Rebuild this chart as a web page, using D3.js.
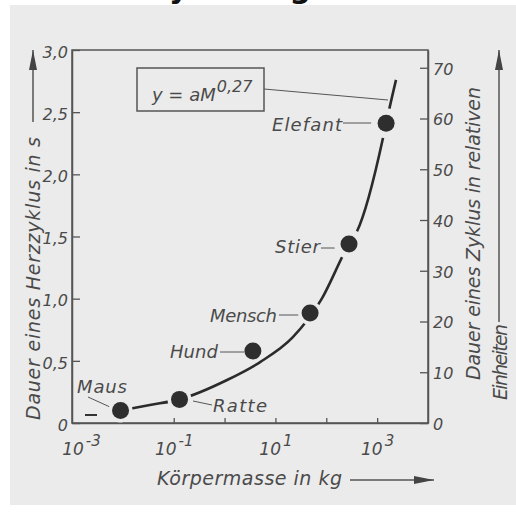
<!DOCTYPE html>
<html>
<head>
<meta charset="utf-8">
<script src="https://cdn.jsdelivr.net/npm/d3@7"></script>
<style>
  body { margin: 0; background: #fff; }
  svg { display: block; }
  text { font-family: "DejaVu Sans", sans-serif; font-style: italic; fill: #4a4a4a; }
</style>
</head>
<body>
<div class="vis"></div>
<script>
// Tiere: Körpermasse (kg) und Dauer eines Herzzyklus (s)
const animals = ["Maus", "Ratte", "Hund", "Mensch", "Stier", "Elefant"];
const massKg = [0.009, 0.13, 3.6, 48, 280, 1500];
const cycleS = [0.10, 0.19, 0.58, 0.885, 1.44, 2.41];

const curveMass = [0.009, 0.034, 0.13, 1.12, 5.0, 22, 79, 280, 400, 1300, 1500, 2350];
const curveSec  = [0.10, 0.145, 0.19, 0.346, 0.49, 0.69, 0.99, 1.44, 1.54, 2.29, 2.41, 2.76];

const leftTicks = [0, 0.5, 1.0, 1.5, 2.0, 2.5, 3.0];
const rightTicks = [0, 10, 20, 30, 40, 50, 60, 70];
const decades = [1e-3, 1e-2, 1e-1, 1e0, 1e1, 1e2, 1e3];
const decadeLabels = {"-3": "-3", "-1": "-1", "1": "1", "3": "3"};

const W = 516, H = 515;
const bg = "#ebebeb";

const svg = d3.select('.vis').append('svg')
    .attr("width", W).attr("height", H);

// Kopfzeile (im Original angeschnitten) und Scanfläche
svg.append("text")
    .attr("x", 94).attr("y", -2)
    .style("font-style", "normal").style("font-weight", "bold")
    .style("font-size", "30px").style("fill", "#111")
    .text("Analyse: Organe");
svg.append("rect")
    .attr("x", 10).attr("y", 5).attr("width", W - 10).attr("height", 500)
    .attr("fill", bg);

const margin = {top: 50, left: 72, right: 88, bottom: 92};
const x = d3.scaleLog().domain([1e-3, 1e4]).range([margin.left, W - margin.right]);
const y = d3.scaleLinear().domain([0, 3]).range([H - margin.bottom, margin.top]);
const yR = d3.scaleLinear().domain([0, 73.5]).range([H - margin.bottom, margin.top]);

const axisColor = "#555";

// Rahmen
svg.append("rect")
    .attr("x", x.range()[0]).attr("y", y(3))
    .attr("width", x.range()[1] - x.range()[0])
    .attr("height", y(0) - y(3))
    .attr("fill", "none").attr("stroke", axisColor).attr("stroke-width", 1.5);

const comma = d => d === 0 ? "0" : d3.format(".1f")(d).replace(".", ",");

const gl = svg.append("g")
    .attr("transform", `translate(${x.range()[0]},0)`)
    .call(d3.axisLeft(y).tickValues(leftTicks).tickSizeInner(-8).tickSizeOuter(0).tickPadding(4).tickFormat(comma));

const gr = svg.append("g")
    .attr("transform", `translate(${x.range()[1]},0)`)
    .call(d3.axisRight(yR).tickValues(rightTicks).tickSizeInner(-8).tickSizeOuter(0).tickPadding(5));

const gb = svg.append("g")
    .attr("transform", `translate(0,${y(0)})`)
    .call(d3.axisBottom(x).tickValues(decades).tickSizeInner(-5).tickSizeOuter(0).tickPadding(14).tickFormat(""));

[gl, gr, gb].forEach(g => {
    g.select(".domain").attr("stroke", axisColor).attr("stroke-width", 1.5);
    g.selectAll(".tick line").attr("stroke", axisColor).attr("stroke-width", 1.3);
    g.selectAll(".tick text").attr("font-family", null).attr("fill", null).style("font-size", "16px");
});
gl.selectAll(".tick text").attr("dy", "0.45em");
gr.selectAll(".tick text").attr("dy", "0.4em");
gb.select(".tick line").attr("stroke", "none");

gb.selectAll(".tick text").each(function (d) {
    const e = String(Math.round(Math.log10(d)));
    if (!(e in decadeLabels)) return;
    const t = d3.select(this).attr("y", 32).attr("dy", null)
        .attr("dx", e === "-3" ? 9 : 0).style("font-size", "17px");
    t.append("tspan").text("10");
    t.append("tspan").attr("dy", -9).attr("dx", 2).style("font-size", "15px").text(decadeLabels[e]);
});

// Achsentitel
const title = (tr, txt, len) => svg.append("text")
    .attr("transform", tr)
    .attr("textLength", len).attr("lengthAdjust", "spacing")
    .style("font-size", "19px")
    .text(txt);
title(`translate(40,420) rotate(-90)`, "Dauer eines Herzzyklus in s", 283);
title(`translate(480,380) rotate(-90)`, "Dauer eines Zyklus in relativen", 293);
title(`translate(507,400) rotate(-90)`, "Einheiten", 76);
title(`translate(157,485)`, "Körpermasse in kg", 185);

// Pfeile
const arrow = (x1, y1, x2, y2) => {
    svg.append("line").attr("x1", x1).attr("y1", y1).attr("x2", x2).attr("y2", y2)
        .attr("stroke", "#555").attr("stroke-width", 1.5);
    const a = Math.atan2(y2 - y1, x2 - x1), L = 20, w = 4;
    const p = [[x2, y2],
        [x2 - L * Math.cos(a) - w * Math.sin(a), y2 - L * Math.sin(a) + w * Math.cos(a)],
        [x2 - L * Math.cos(a) + w * Math.sin(a), y2 - L * Math.sin(a) - w * Math.cos(a)]];
    svg.append("path").attr("d", d3.line()(p) + "Z").attr("fill", "#444");
};
arrow(33, 122, 33, 50);
arrow(499, 322, 499, 50);
arrow(350, 480, 434, 480);

// Kurve
const curvePts = curveMass.map((m, i) => [x(m), y(curveSec[i])]);
svg.append("path")
    .attr("d", d3.line().curve(d3.curveMonotoneX)(curvePts))
    .attr("fill", "none").attr("stroke", "#2b2b2b").attr("stroke-width", 2.6);

// Formelkasten
const box = svg.append("g");
box.append("line")
    .attr("x1", 264).attr("y1", 89).attr("x2", 388).attr("y2", 100)
    .attr("stroke", "#555").attr("stroke-width", 1);
box.append("rect")
    .attr("x", 137).attr("y", 68).attr("width", 127).attr("height", 43)
    .attr("fill", bg).attr("stroke", "#555").attr("stroke-width", 1.5);
const eq = box.append("text").attr("x", 152).attr("y", 101).style("font-size", "18px");
eq.append("tspan").text("y = aM");
eq.append("tspan").attr("dy", -9).attr("dx", 1).style("font-size", "16px").text("0,27");

// Beschriftungen der Punkte
const labelPos = {
    Maus:    {tx: 77,  ty: 393, len: 50, line: [[88, 397], [110, 407]]},
    Ratte:   {tx: 213, ty: 412, len: 54, line: [[193, 401], [212, 405]]},
    Hund:    {tx: 170, ty: 358, len: 48, line: [[220, 352], [244, 352]]},
    Mensch:  {tx: 210, ty: 322, len: 67, line: [[279, 315], [301, 315]]},
    Stier:   {tx: 275, ty: 253, len: 45, line: [[321, 248], [340, 248]]},
    Elefant: {tx: 272, ty: 131, len: 70, line: [[343, 123], [378, 123]]}
};
const lab = svg.append("g");
animals.forEach(a => {
    const p = labelPos[a];
    lab.append("text").attr("x", p.tx).attr("y", p.ty)
        .attr("textLength", p.len).attr("lengthAdjust", "spacing")
        .style("font-size", "18px").text(a);
    lab.append("path").attr("d", d3.line()(p.line))
        .attr("stroke", "#555").attr("stroke-width", 1).attr("fill", "none");
});
// kurzer Strich links der Maus
lab.append("line").attr("x1", 85).attr("x2", 97).attr("y1", 415).attr("y2", 415)
    .attr("stroke", "#333").attr("stroke-width", 2);

// Punkte mit Aussparung in der Kurve
const dots = svg.append("g");
dots.selectAll("circle.halo").data(animals).join("circle")
    .attr("class", "halo")
    .attr("cx", (d, i) => x(massKg[i])).attr("cy", (d, i) => y(cycleS[i]))
    .attr("r", (d, i) => d === "Hund" ? 9 : (d === "Elefant" || d === "Stier" ? 15 : 12))
    .attr("fill", bg);
dots.selectAll("circle.dot").data(animals).join("circle")
    .attr("class", "dot")
    .attr("cx", (d, i) => x(massKg[i])).attr("cy", (d, i) => y(cycleS[i]))
    .attr("r", 8.5)
    .attr("fill", "#2e2e2e");
</script>
</body>
</html>
